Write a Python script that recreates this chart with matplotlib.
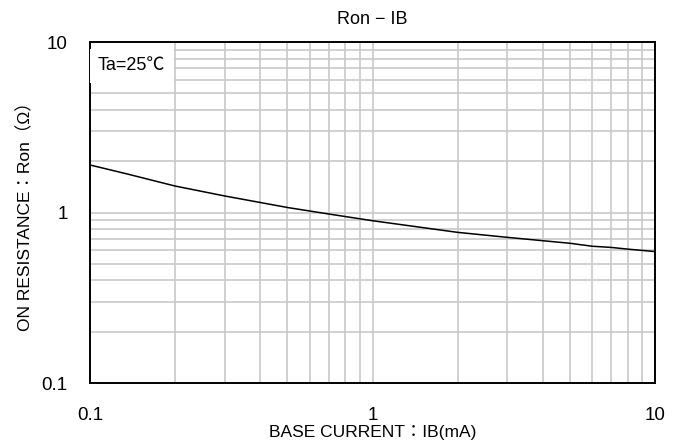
import matplotlib.pyplot as plt
from matplotlib.ticker import FixedLocator, NullFormatter

plt.rcParams['font.family'] = ['Liberation Sans', 'Noto Sans CJK JP', 'DejaVu Sans']

# base current IB (mA) and on resistance Ron (ohm)
ib_ma = [0.1, 0.136, 0.2, 0.3, 0.5, 0.7, 1.0, 2.0, 3.0, 5.0, 6.0, 7.0, 8.0, 10.0]
ron_ohm = [1.90, 1.68, 1.43, 1.25, 1.07, 0.98, 0.895, 0.765, 0.715, 0.66, 0.634, 0.624, 0.61, 0.59]

x_ticks = [0.1, 1, 10]
x_tick_labels = ['0.1', '1', '10']
y_ticks = [0.1, 1, 10]
y_tick_labels = ['0.1', '1', '10']

fig = plt.figure(figsize=(6.89, 4.45), dpi=100)
ax = fig.add_axes([0.1306, 0.1393, 0.8201, 0.7663])

ax.set_xscale('log')
ax.set_yscale('log')
ax.set_xlim(0.1, 10)
ax.set_ylim(0.1, 10)

ax.plot(ib_ma, ron_ohm, color='black', linewidth=1.1, zorder=3)

ax.xaxis.set_major_locator(FixedLocator(x_ticks))
ax.yaxis.set_major_locator(FixedLocator(y_ticks))
ax.set_xticklabels(x_tick_labels)
ax.set_yticklabels(y_tick_labels)
ax.xaxis.set_minor_formatter(NullFormatter())
ax.yaxis.set_minor_formatter(NullFormatter())
ax.tick_params(which='both', length=0, labelsize=13.5)
ax.tick_params(axis='x', pad=17)
ax.tick_params(axis='y', pad=16)

ax.grid(which='both', color='#c8c8c8', linewidth=1.2)
ax.set_axisbelow(True)
for s in ax.spines.values():
    s.set_linewidth(1.4)
    s.set_color('black')

ax.text(0.014, 0.93, 'Ta=25℃', transform=ax.transAxes, fontsize=13,
        va='center', ha='left',
        bbox=dict(facecolor='white', edgecolor='none', pad=6), zorder=4)

ax.set_title('Ron − IB', fontsize=13, pad=13)
ax.set_xlabel('BASE CURRENT：IB(mA)', fontsize=12.5, labelpad=1)
ax.set_ylabel('ON RESISTANCE：Ron（Ω）', fontsize=12.5, labelpad=6)

fig.savefig('out.png', dpi=100)
